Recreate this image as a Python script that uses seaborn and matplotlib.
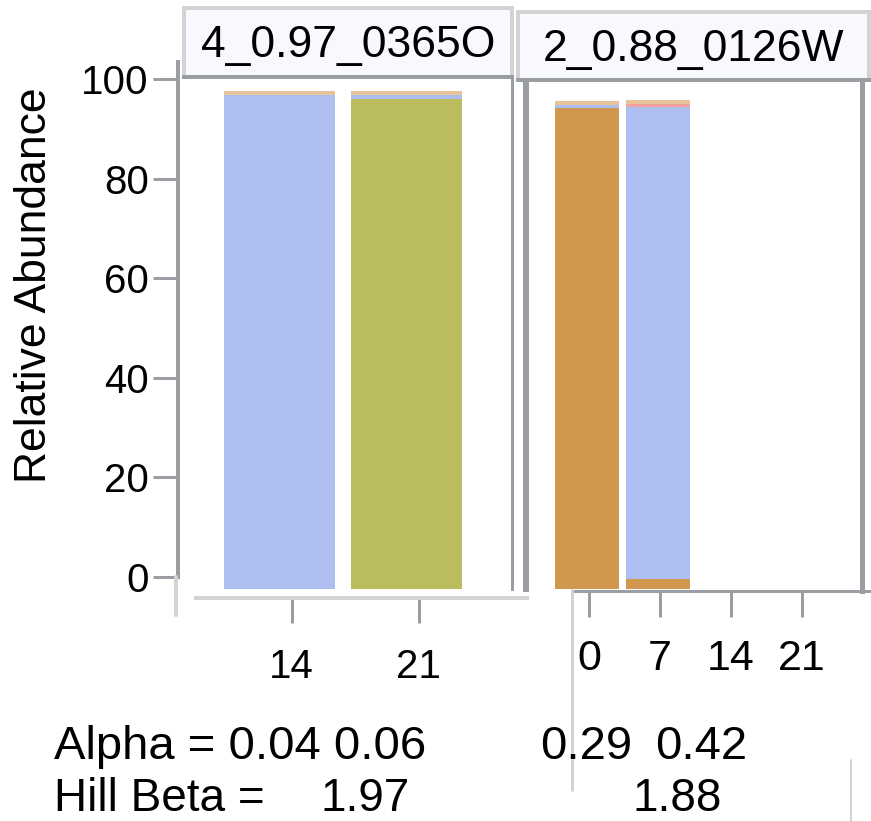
"""
plot.py

Stacked relative-abundance bars for two samples, one panel per sample.
"""

import matplotlib.pyplot as plt
from matplotlib.lines import Line2D
import numpy as np
import seaborn as sns

W, H = 871, 821

taxa = ["Taxon A", "Taxon B", "Taxon C", "Taxon D", "Other"]
taxa_colors = ["#CF984E", "#BBBC5E", "#AFBEF0", "#F2A19B", "#E6C39A"]

left_label = "4_0.97_0365O"
left_order = ["14", "21"]
left_days = ["14", "21"]
left_values = {
    "Taxon A": [0.0, 0.0],
    "Taxon B": [0.0, 98.4],
    "Taxon C": [99.2, 0.8],
    "Taxon D": [0.0, 0.0],
    "Other": [0.9, 0.9],
}

right_label = "2_0.88_0126W"
right_order = ["0", "7", "14", "21"]
right_days = ["0", "7"]
right_values = {
    "Taxon A": [96.7, 2.0],
    "Taxon B": [0.0, 0.0],
    "Taxon C": [0.5, 94.9],
    "Taxon D": [0.0, 0.5],
    "Other": [0.9, 0.9],
}

alpha_left = "Alpha = 0.04 0.06"
alpha_right = ["0.29", "0.42"]
hill_beta = ["1.97", "1.88"]
y_ticks = [0, 20, 40, 60, 80, 100]

BASE = -2.5
DARK = "#9A9EA3"
LIGHT = "#D3D3D3"
STRIP_BG = "#F8F9FE"
PX = 0.72  # points per pixel at dpi 100


def box(x0, y0, x1, y1):
    return [x0 / W, 1 - y1 / H, (x1 - x0) / W, (y1 - y0) / H]


def stacked_bars(ax, days, order, values, width):
    bottom = np.full(len(days), BASE)
    for taxon, color in zip(taxa, taxa_colors):
        h = np.asarray(values[taxon], dtype=float)
        sns.barplot(x=days, y=h, order=order, color=color, saturation=1,
                    width=width, errorbar=None, bottom=bottom, linewidth=0,
                    ax=ax)
        bottom = bottom + h
    ax.set_xlabel("")
    ax.set_ylabel("")


def strip(rect, label):
    s = fig.add_axes(rect)
    s.set_facecolor(STRIP_BG)
    s.set_xticks([])
    s.set_yticks([])
    for side in ["top", "left", "right"]:
        s.spines[side].set_color(LIGHT)
        s.spines[side].set_linewidth(4 * PX)
    s.spines["bottom"].set_color(DARK)
    s.spines["bottom"].set_linewidth(4 * PX)
    s.text(0.5, 0.45, label, ha="center", va="center", fontsize=32,
           color="black", transform=s.transAxes)


sns.set_theme(style="white")
plt.rcParams["font.family"] = ["Liberation Sans", "DejaVu Sans"]
plt.rcParams["text.color"] = "black"
plt.rcParams["xtick.color"] = "black"
plt.rcParams["ytick.color"] = "black"

fig = plt.figure(figsize=(W / 100, H / 100), dpi=100)

# left panel
ax1 = fig.add_axes(box(178, 77, 512, 598))
stacked_bars(ax1, left_days, left_order, left_values, 0.88)
ax1.set_xlim(-0.80, 1.83)
ax1.set_ylim(-4.3, 100.4)
ax1.set_xticks(np.arange(len(left_order)) + 0.095, left_order)
ax1.set_yticks(y_ticks, [str(t) for t in y_ticks])
ax1.tick_params(axis="both", direction="out", length=25 * PX, width=3 * PX,
                color=DARK, labelsize=29, labelcolor="black")
ax1.tick_params(axis="x", pad=18, bottom=True)
ax1.tick_params(axis="y", pad=3, left=True)
ax1.spines["top"].set_visible(False)
ax1.spines["left"].set_color(DARK)
ax1.spines["left"].set_linewidth(4 * PX)
ax1.spines["left"].set_bounds(0, 103.4)
ax1.spines["left"].set_clip_on(False)
ax1.spines["right"].set_color(DARK)
ax1.spines["right"].set_linewidth(3 * PX)
ax1.spines["right"].set_bounds(BASE, 100.4)
ax1.spines["bottom"].set_color(LIGHT)
ax1.spines["bottom"].set_linewidth(4 * PX)
ax1.spines["bottom"].set_bounds(-0.66, 1.945)
ax1.set_facecolor("white")

# right panel
ax2 = fig.add_axes(box(526, 80, 862, 591))
stacked_bars(ax2, right_days, right_order, right_values, 0.9)
ax2.set_xlim(-0.85, 3.85)
ax2.set_ylim(-2.87, 99.8)
ax2.set_xticks(np.arange(len(right_order)) * 0.99 + 0.035, right_order)
ax2.set_yticks([])
ax2.tick_params(axis="x", direction="out", length=26 * PX, width=3 * PX,
                color=DARK, labelsize=31, labelcolor="black", pad=16,
                bottom=True)
ax2.spines["top"].set_visible(False)
ax2.spines["left"].set_color(DARK)
ax2.spines["left"].set_linewidth(6 * PX)
ax2.spines["left"].set_bounds(BASE, 99.8)
ax2.spines["right"].set_color(DARK)
ax2.spines["right"].set_linewidth(5 * PX)
ax2.spines["bottom"].set_color(DARK)
ax2.spines["bottom"].set_linewidth(3 * PX)
ax2.spines["bottom"].set_bounds(-0.19, 3.96)
ax2.set_facecolor("white")

strip(box(184, 8, 512, 77), left_label)
strip(box(518, 12, 869, 80), right_label)

fig.text(35 / W, 1 - 285 / H, "Relative Abundance", rotation=90,
         ha="center", va="center", fontsize=32)

# stray guide lines
for x, y0, y1, lw in [(176, 577, 615, 4), (572, 590, 790, 3), (851, 760, 821, 2)]:
    fig.add_artist(Line2D([x / W, x / W], [1 - y0 / H, 1 - y1 / H],
                          color=LIGHT, lw=lw * PX, transform=fig.transFigure))

# diversity summary
fig.text(54 / W, 1 - 759 / H, alpha_left, fontsize=34, va="baseline")
fig.text(540 / W, 1 - 759 / H, alpha_right[0], fontsize=34, va="baseline")
fig.text(655 / W, 1 - 759 / H, alpha_right[1], fontsize=34, va="baseline")
fig.text(54 / W, 1 - 811 / H, "Hill Beta =", fontsize=33, va="baseline")
fig.text(320 / W, 1 - 811 / H, hill_beta[0], fontsize=33, va="baseline")
fig.text(632 / W, 1 - 811 / H, hill_beta[1], fontsize=33, va="baseline")

fig.savefig("out.png", dpi=100)
